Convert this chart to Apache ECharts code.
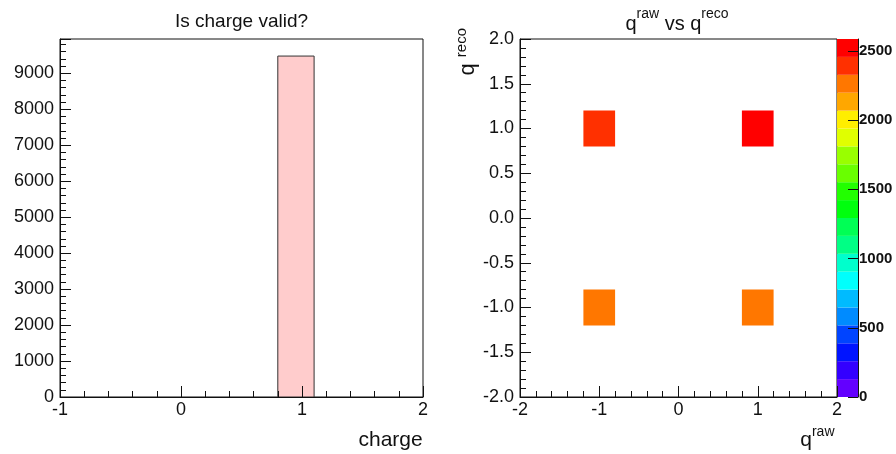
<!DOCTYPE html>
<html>
<head>
<meta charset="utf-8">
<script src="https://cdn.jsdelivr.net/npm/echarts@6/dist/echarts.min.js"></script>
<style>
  html, body { margin: 0; padding: 0; background: #fff; }
  #chart { width: 896px; height: 454px; }
</style>
</head>
<body>
<div id="chart"></div>
<script>
// ---- "Is charge valid?" : 1D histogram, bins of width 0.3 on [-1, 2] ----
const chargeBinLow  = [0.8];
const chargeBinHigh = [1.1];
const chargeCounts  = [9480];
const chargeAxisMax = 9954;          // counts axis top (5% headroom)

// ---- q_raw vs q_reco : 2D histogram, bins of width 0.4 on [-2, 2] ----
const qRawCentres  = [-1, 1, -1, 1];
const qRecoCentres = [1, 1, -1, -1];
const qCounts      = [2400, 2585, 2250, 2245];
const qBinWidth    = 0.4;

// ---- colour scale ----
const zMin = 0;
const zMax = 2585;
const zTickValues = [0, 500, 1000, 1500, 2000, 2500];
const zPalette = [
  '#6300ff', '#3300ff', '#0014ff', '#0044ff', '#008bff',
  '#00bbff', '#00fffc', '#00ffcc', '#00ff85', '#00ff55',
  '#00ff0e', '#22ff00', '#69ff00', '#99ff00', '#e0ff00',
  '#ffee00', '#ffa700', '#ff7700', '#ff3000', '#ff0000'
];

const FONT = '"Liberation Sans", Arimo, Arial, Helvetica, sans-serif';
const INK = '#111';

function levelOf(v) {
  const n = zPalette.length;
  const k = Math.floor((v - zMin) / (zMax - zMin) * n);
  return Math.max(0, Math.min(n - 1, k));
}

// text with superscripts, laid out along a baseline
const measureCtx = document.createElement('canvas').getContext('2d');
function textWidth(txt, size, weight) {
  measureCtx.font = (weight || 'normal') + ' ' + size + 'px ' + FONT;
  return measureCtx.measureText(txt).width;
}
function scriptText(parts, opt) {
  const main = opt.size, sup = opt.supSize, rise = opt.rise;
  let w = 0;
  const pieces = parts.map(p => {
    const fs = p.sup ? sup : main;
    const el = {
      type: 'text',
      x: w,
      y: (p.sup ? -rise : 0) - 0.33 * fs,
      style: { text: p.t, fontFamily: FONT, fontSize: fs, fill: INK, align: 'left', verticalAlign: 'middle' }
    };
    w += textWidth(p.t, fs) + (p.gapAfter || 0);
    return el;
  });
  let ox = 0;
  if (opt.anchor === 'center') ox = -w / 2;
  else if (opt.anchor === 'right') ox = -w;
  pieces.forEach(el => { el.x += ox; });
  return { type: 'group', x: opt.x, y: opt.y, rotation: opt.rotation || 0, children: pieces };
}

const chargeBars = chargeCounts.map((c, i) => [chargeBinLow[i], chargeBinHigh[i], c]);
const qCells = qCounts.map((c, i) => [qRawCentres[i], qRecoCentres[i], c]);
const zBands = zPalette.map((col, k) => [
  zMin + (zMax - zMin) * k / zPalette.length,
  zMin + (zMax - zMin) * (k + 1) / zPalette.length,
  k
]);

const tickLine = { color: INK, width: 1 };
const labelBase = { fontFamily: FONT, fontSize: 18, color: INK };
const plain = v => String(v);
// axes are drawn above the histogram fills, as ticks overlay the bars
const axisCommon = { z: 5, splitLine: { show: false }, minorSplitLine: { show: false } };

const chart = echarts.init(document.getElementById('chart'), null, { renderer: 'canvas' });
chart.setOption({
  animation: false,
  backgroundColor: '#fff',
  grid: [
    { left: 60, top: 39, width: 363, height: 358, show: true, borderColor: INK, borderWidth: 1 },
    { left: 520, top: 39, width: 317, height: 358, show: true, borderColor: INK, borderWidth: 1 },
    { left: 837, top: 39, width: 21, height: 358, show: false }
  ],
  xAxis: [
    Object.assign({
      gridIndex: 0, type: 'value', min: -1, max: 2, interval: 1,
      axisLine: { show: true, onZero: false, lineStyle: tickLine },
      axisTick: { show: true, inside: true, length: 11, lineStyle: tickLine },
      minorTick: { show: true, splitNumber: 5, length: 6, lineStyle: tickLine },
      axisLabel: Object.assign({ show: true, margin: 4, formatter: plain }, labelBase)
    }, axisCommon),
    Object.assign({
      gridIndex: 1, type: 'value', min: -2, max: 2, interval: 1,
      axisLine: { show: true, onZero: false, lineStyle: tickLine },
      axisTick: { show: true, inside: true, length: 11, lineStyle: tickLine },
      minorTick: { show: true, splitNumber: 5, length: 6, lineStyle: tickLine },
      axisLabel: Object.assign({ show: true, margin: 4, formatter: plain }, labelBase)
    }, axisCommon),
    { gridIndex: 2, type: 'value', min: 0, max: 1, show: false }
  ],
  yAxis: [
    Object.assign({
      gridIndex: 0, type: 'value', position: 'left', min: 0, max: chargeAxisMax, interval: 1000,
      axisLine: { show: true, onZero: false, lineStyle: tickLine },
      axisTick: { show: true, inside: true, length: 11, lineStyle: tickLine },
      axisLabel: Object.assign({ show: true, margin: 6, formatter: v => (v % 1000 === 0 ? String(v) : '') }, labelBase)
    }, axisCommon),
    Object.assign({
      gridIndex: 0, type: 'value', position: 'left', offset: 0, min: 0, max: chargeAxisMax, interval: 200,
      axisLine: { show: false, onZero: false },
      axisTick: { show: true, inside: true, length: 6, lineStyle: tickLine },
      axisLabel: { show: false }
    }, axisCommon),
    Object.assign({
      gridIndex: 1, type: 'value', position: 'left', min: -2, max: 2, interval: 0.5,
      axisLine: { show: true, onZero: false, lineStyle: tickLine },
      axisTick: { show: true, inside: true, length: 11, lineStyle: tickLine },
      minorTick: { show: true, splitNumber: 5, length: 6, lineStyle: tickLine },
      axisLabel: Object.assign({ show: true, margin: 6, formatter: v => v.toFixed(1) }, labelBase)
    }, axisCommon),
    Object.assign({
      gridIndex: 2, type: 'value', position: 'right', min: zMin, max: zMax,
      axisLine: { show: true, onZero: false, lineStyle: tickLine },
      axisTick: { show: true, inside: true, length: 10, customValues: zTickValues, lineStyle: tickLine },
      axisLabel: { show: true, margin: 1, customValues: zTickValues, formatter: plain,
                   fontFamily: FONT, fontSize: 15, fontWeight: 'bold', color: INK }
    }, axisCommon)
  ],
  series: [
    {
      name: 'charge', type: 'custom', xAxisIndex: 0, yAxisIndex: 0, z: 2,
      data: chargeBars, encode: { x: [0, 1], y: 2 },
      renderItem: (params, api) => {
        const p0 = api.coord([api.value(0), api.value(2)]);
        const p1 = api.coord([api.value(1), 0]);
        return {
          type: 'rect',
          shape: { x: p0[0], y: p0[1], width: p1[0] - p0[0], height: p1[1] - p0[1] },
          style: { fill: '#ffcccc', stroke: '#333', lineWidth: 1 }
        };
      }
    },
    {
      name: 'qraw_vs_qreco', type: 'custom', xAxisIndex: 1, yAxisIndex: 2, z: 2,
      data: qCells, encode: { x: 0, y: 1 },
      renderItem: (params, api) => {
        const x = api.value(0), y = api.value(1), v = api.value(2);
        const h = qBinWidth / 2;
        const p0 = api.coord([x - h, y + h]);
        const p1 = api.coord([x + h, y - h]);
        return {
          type: 'rect',
          shape: { x: p0[0], y: p0[1], width: p1[0] - p0[0], height: p1[1] - p0[1] },
          style: { fill: zPalette[levelOf(v)] }
        };
      }
    },
    {
      name: 'palette', type: 'custom', xAxisIndex: 2, yAxisIndex: 3, z: 2,
      data: zBands, encode: { y: [0, 1] },
      renderItem: (params, api) => {
        const p0 = api.coord([0, api.value(1)]);
        const p1 = api.coord([1, api.value(0)]);
        return {
          type: 'rect',
          shape: { x: p0[0], y: p0[1], width: p1[0] - p0[0], height: p1[1] - p0[1] },
          style: { fill: zPalette[api.value(2)] }
        };
      }
    }
  ],
  graphic: [
    scriptText([{ t: 'Is charge valid?' }], { x: 241.5, y: 28.3, size: 19, anchor: 'center' }),
    scriptText([{ t: 'q' }, { t: 'raw', sup: true }, { t: ' vs q' }, { t: 'reco', sup: true }],
      { x: 677, y: 31, size: 20, supSize: 14, rise: 12.7, anchor: 'center' }),
    scriptText([{ t: 'charge' }], { x: 422.7, y: 446.7, size: 21, anchor: 'right' }),
    scriptText([{ t: 'q' }, { t: 'raw', sup: true }],
      { x: 834.5, y: 447.4, size: 21, supSize: 14, rise: 11, anchor: 'right' }),
    scriptText([{ t: 'q', gapAfter: 6 }, { t: 'reco', sup: true }],
      { x: 475, y: 28, size: 22, supSize: 15, rise: 8, anchor: 'right', rotation: Math.PI / 2 })
  ]
});
</script>
</body>
</html>
